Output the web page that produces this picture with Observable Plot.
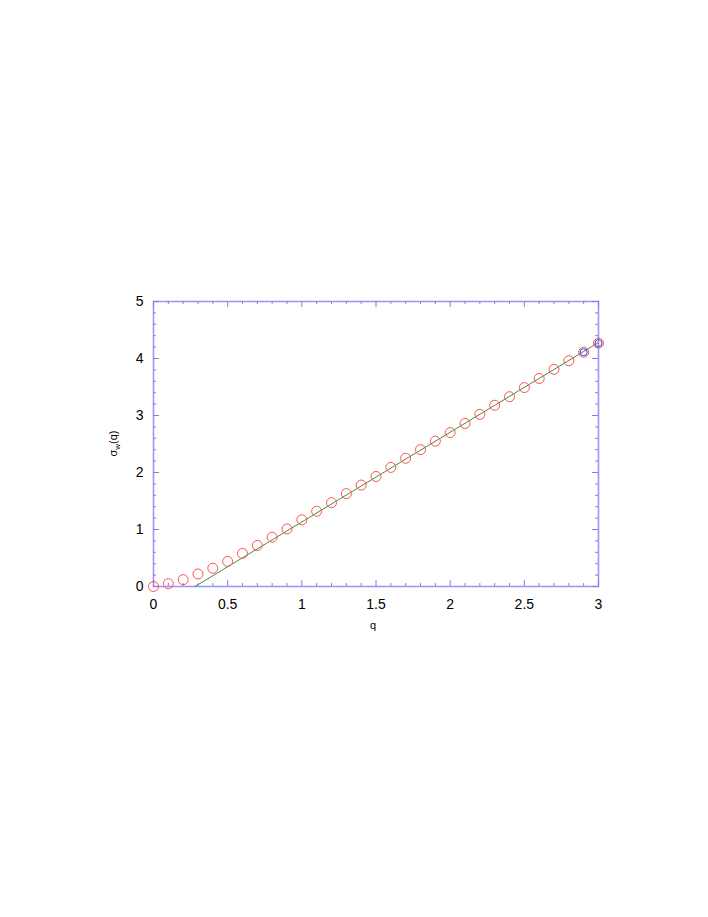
<!DOCTYPE html>
<html><head><meta charset="utf-8">
<script src="https://cdn.jsdelivr.net/npm/d3@7"></script>
<script src="https://cdn.jsdelivr.net/npm/@observablehq/plot@0.6"></script>
<style>body{margin:0;background:#fff;} #chart svg{display:block;}</style>
</head><body><div id="chart"></div>
<script>
// Data
const qValues = [0, 0.1, 0.2, 0.3, 0.4, 0.5, 0.6, 0.7, 0.8, 0.9, 1.0, 1.1, 1.2, 1.3, 1.4, 1.5, 1.6, 1.7, 1.8, 1.9, 2.0, 2.1, 2.2, 2.3, 2.4, 2.5, 2.6, 2.7, 2.8, 2.9, 3.0];
const sigmaValues = [0.0, 0.05, 0.12, 0.22, 0.32, 0.44, 0.58, 0.72, 0.865, 1.01, 1.17, 1.32, 1.47, 1.63, 1.78, 1.93, 2.09, 2.25, 2.40, 2.55, 2.70, 2.86, 3.02, 3.18, 3.33, 3.49, 3.65, 3.81, 3.96, 4.11, 4.27];
const fitQ = [0.28, 3.0];
const fitSigma = [0, 4.28];
const highlightQ = [2.9, 3.0];
const highlightSigma = [4.11, 4.27];
const xMajorTicks = [0, 0.5, 1, 1.5, 2, 2.5, 3];
const xMinorTicks = [0.1, 0.2, 0.3, 0.4, 0.6, 0.7, 0.8, 0.9, 1.1, 1.2, 1.3, 1.4, 1.6, 1.7, 1.8, 1.9, 2.1, 2.2, 2.3, 2.4, 2.6, 2.7, 2.8, 2.9];
const yMajorTicks = [0, 1, 2, 3, 4, 5];
const yMinorTicks = [0.2, 0.4, 0.6, 0.8, 1.2, 1.4, 1.6, 1.8, 2.2, 2.4, 2.6, 2.8, 3.2, 3.4, 3.6, 3.8, 4.2, 4.4, 4.6, 4.8];

const points = qValues.map((q, i) => ({q, s: sigmaValues[i]}));
const fit = fitQ.map((q, i) => ({q, s: fitSigma[i]}));
const highlight = highlightQ.map((q, i) => ({q, s: highlightSigma[i]}));

const W = 708, H = 917;
const mL = 153, mR = 110, mT = 301, mB = 331;
const pw = W - mL - mR, ph = H - mT - mB;
const axisColor = "#7f7ff0";
const frameColor = "#9a9af2";
const majorLen = 6, minorLen = 3;

const chart = Plot.plot({
  width: W, height: H,
  marginLeft: mL, marginRight: mR, marginTop: mT, marginBottom: mB,
  style: {fontFamily: "'Liberation Sans', Arial, sans-serif", background: "#fff", color: "#000"},
  x: {domain: [0, 3]},
  y: {domain: [0, 5]},
  marks: [
    Plot.frame({stroke: frameColor, strokeWidth: 1.6}),
    // bottom & top ticks
    Plot.tickX(xMinorTicks, {x: d => d, insetTop: ph - minorLen, stroke: axisColor}),
    Plot.tickX(xMajorTicks, {x: d => d, insetTop: ph - majorLen, stroke: axisColor}),
    Plot.tickX(xMinorTicks, {x: d => d, insetBottom: ph - minorLen, stroke: axisColor}),
    Plot.tickX(xMajorTicks, {x: d => d, insetBottom: ph - majorLen, stroke: axisColor}),
    // left & right ticks
    Plot.tickY(yMinorTicks, {y: d => d, insetRight: pw - minorLen, stroke: axisColor}),
    Plot.tickY(yMajorTicks, {y: d => d, insetRight: pw - majorLen, stroke: axisColor}),
    Plot.tickY(yMinorTicks, {y: d => d, insetLeft: pw - minorLen, stroke: axisColor}),
    Plot.tickY(yMajorTicks, {y: d => d, insetLeft: pw - majorLen, stroke: axisColor}),
    Plot.axisX({ticks: xMajorTicks, tickSize: 0, tickPadding: 13, fontSize: 14, label: null, tickFormat: d => String(d)}),
    Plot.axisY({ticks: yMajorTicks, tickSize: 0, tickPadding: 10, fontSize: 14, label: null, tickFormat: d => String(d)}),
    Plot.line(fit, {x: "q", y: "s", stroke: "#3f8f3f", strokeWidth: 1}),
    Plot.dot(points, {x: "q", y: "s", r: 5, stroke: "#ff5050", strokeWidth: 1, fill: "none"}),
    Plot.dot(highlight, {x: "q", y: "s", r: 3.5, stroke: "#3a3ae0", strokeWidth: 1, fill: "none"}),
    Plot.text(["q"], {frameAnchor: "bottom", dy: 42, dx: -3, fontSize: 11, fill: "#000", text: d => d})
  ]
});
document.getElementById("chart").appendChild(chart);

// y-axis label with subscript
const svg = d3.select(chart.tagName.toLowerCase() === "svg" ? chart : chart.querySelector("svg"));
const yl = svg.append("text")
  .attr("transform", `translate(${mL - 36},${mT + ph / 2}) rotate(-90)`)
  .attr("text-anchor", "middle")
  .attr("font-family", "'Liberation Sans', Arial, sans-serif")
  .attr("font-size", 11)
  .attr("fill", "#000");
yl.append("tspan").text("σ");
yl.append("tspan").attr("font-size", 8).attr("dy", 3).text("w");
yl.append("tspan").attr("dy", -3).text("(q)");
</script>
</body></html>
